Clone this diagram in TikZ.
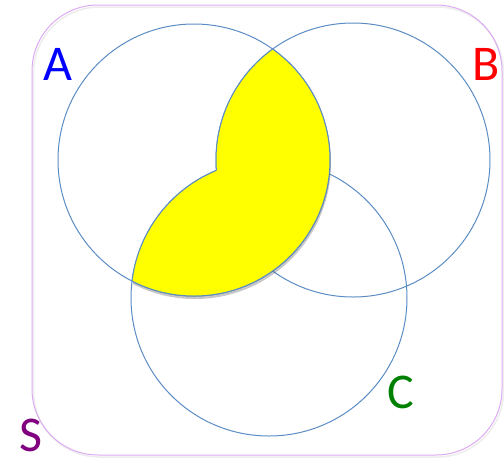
\documentclass[tikz,border=0pt]{standalone}
\usepackage{fontspec}
\setmainfont{Carlito}
\definecolor{setline}{HTML}{5B8CC4}
\definecolor{boxline}{HTML}{DCA9F2}
\definecolor{shadefill}{HTML}{FFFF00}
\definecolor{labela}{HTML}{0000FF}
\definecolor{labelb}{HTML}{FF0000}
\definecolor{labelc}{HTML}{008000}
\definecolor{labels}{HTML}{800080}
\tikzset{
  setcircle/.style={draw=setline, line width=1pt},
  universe/.style={draw=boxline, line width=1pt, rounded corners=66pt},
  setlabel/.style={font=\fontsize{50}{50}\selectfont, inner sep=0pt},
  softshadow/.style={fill=black, opacity=0.22}
}
\newcommand{\pathSetA}{(194,160) circle (136)}
\newcommand{\pathSetB}{(353,160) circle (137)}
\newcommand{\pathSetC}{(269,298) circle (138)}
\newcommand{\pathPage}{(-10,-10) rectangle (520,470)}

\begin{document}
\begin{tikzpicture}[x=1pt,y=-1pt]
  \useasboundingbox (0,0) rectangle (504,459);

  % universe S
  \draw[universe, draw=black!7, line width=1.5pt] (33.5,7) rectangle (503.5,457);
  \draw[universe] (32,5) rectangle (502,455);

  % the three sets
  \draw[setcircle] \pathSetA;
  \draw[setcircle] \pathSetB;
  \draw[setcircle] \pathSetC;

  % A intersect (B union C), with shadow
  \begin{scope}[shift={(1,3)}]
    \clip \pathSetA;
    \fill[softshadow] \pathSetB \pathSetC;
  \end{scope}
  \begin{scope}
    \clip \pathSetA;
    \fill[shadefill] \pathSetB \pathSetC;
  \end{scope}

  % outline of the shaded part
  \begin{scope}
    \clip \pathSetB \pathSetC;
    \draw[setcircle] \pathSetA;
  \end{scope}
  \begin{scope}[even odd rule]
    \clip \pathPage \pathSetC;
    \clip \pathSetA;
    \draw[setcircle] \pathSetB;
  \end{scope}
  \begin{scope}[even odd rule]
    \clip \pathPage \pathSetB;
    \clip \pathSetA;
    \draw[setcircle] \pathSetC;
  \end{scope}

  \node[setlabel, text=labela] (labA) at (58,64) {A};
  \node[setlabel, text=labelb] (labB) at (486,64) {B};
  \node[setlabel, text=labelc] (labC) at (401,392) {C};
  \node[setlabel, text=labels] (labS) at (31,435) {S};
\end{tikzpicture}
\end{document}
